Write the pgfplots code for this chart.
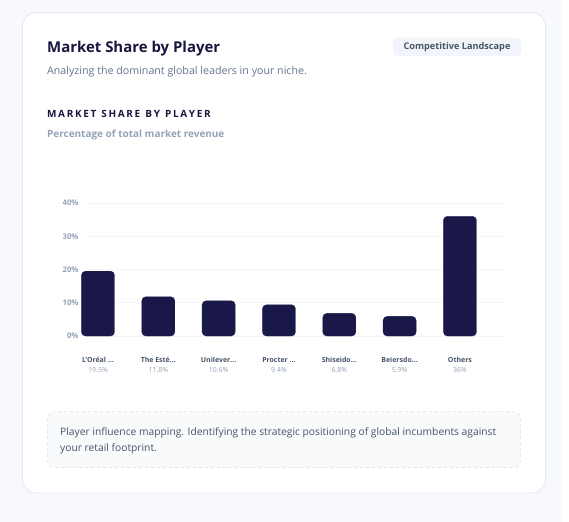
\documentclass[border=0pt]{standalone}
\usepackage{pgfplots}
\pgfplotsset{compat=1.18}
\usepackage{fontspec}
\setmainfont{Open Sans}
\definecolor{pagebg}{HTML}{F8F9FC}
\definecolor{cardborder}{HTML}{E2E8F0}
\definecolor{navy}{HTML}{1A1848}
\definecolor{titlec}{HTML}{16163F}
\definecolor{subc}{HTML}{64748B}
\definecolor{lightc}{HTML}{94A3B8}
\definecolor{midc}{HTML}{475569}
\definecolor{badgebg}{HTML}{F1F5F9}
\definecolor{notebg}{HTML}{F8FAFC}
\definecolor{gridc}{HTML}{F1F5F9}
\begin{document}
\begin{tikzpicture}
\begin{scope}[x=1bp,y=-1bp]
\fill[white] (0,0) rectangle (569,522);
\fill[pagebg] (0,0) rectangle (562,522);
\draw[cardborder,fill=white,rounded corners=14bp,line width=0.8bp] (22.5,12.5) rectangle (545.5,493);
\node[anchor=base west,inner sep=0,text=titlec] at (47,53) {\fontsize{15}{18}\selectfont\bfseries Market Share by Player};
\fill[badgebg,rounded corners=4bp] (393,38) rectangle (521,56);
\node[inner sep=0,text=midc] at (457,47) {\fontsize{9.2}{10}\selectfont\bfseries Competitive Landscape};
\node[anchor=base west,inner sep=0,text=subc] at (47,75) {\fontsize{10.7}{12}\selectfont Analyzing the dominant global leaders in your niche.};
\node[anchor=base west,inner sep=0,text=titlec] at (47,118) {\fontsize{10}{12}\selectfont\bfseries M\,A\,R\,K\,E\,T\ \ S\,H\,A\,R\,E\ \ B\,Y\ \ P\,L\,A\,Y\,E\,R};
\node[anchor=base west,inner sep=0,text=lightc] at (47,138) {\fontsize{10}{12}\selectfont\bfseries Percentage of total market revenue};
\draw[cardborder,dashed,fill=notebg,rounded corners=7bp,line width=0.7bp] (47.5,411.5) rectangle (520.5,467.5);
\node[anchor=base west,inner sep=0,text=midc] at (60,435) {\fontsize{10.3}{12}\selectfont Player influence mapping. Identifying the strategic positioning of global incumbents against};
\node[anchor=base west,inner sep=0,text=midc] at (60,451) {\fontsize{10.3}{12}\selectfont your retail footprint.};
\end{scope}
\begin{axis}[
  at={(85bp,-336bp)}, anchor=south west,
  scale only axis, width=422bp, height=133bp,
  xmin=-0.215, xmax=6.78, ymin=0, ymax=40,
  clip=false,
  axis line style={draw=none},
  tick style={draw=none},
  ytick={0,10,20,30,40},
  yticklabel={\pgfmathprintnumber{\tick}\%},
  /pgf/number format/assume math mode=true,
  yticklabel style={font=\fontsize{7.8}{9}\selectfont\bfseries, text=lightc, xshift=-3bp},
  ymajorgrids, grid style={draw=gridc, line width=0.6bp},
  xtick={0,1,2,3,4,5,6},
  xticklabels={
    {\textcolor{midc}{\bfseries L’Oréal ...}\\[1bp]\textcolor{lightc}{19.5\%}},
    {\textcolor{midc}{\bfseries The Esté...}\\[1bp]\textcolor{lightc}{11.8\%}},
    {\textcolor{midc}{\bfseries Unilever...}\\[1bp]\textcolor{lightc}{10.6\%}},
    {\textcolor{midc}{\bfseries Procter ...}\\[1bp]\textcolor{lightc}{9.4\%}},
    {\textcolor{midc}{\bfseries Shiseido...}\\[1bp]\textcolor{lightc}{6.8\%}},
    {\textcolor{midc}{\bfseries Beiersdo...}\\[1bp]\textcolor{lightc}{5.9\%}},
    {\textcolor{midc}{\bfseries Others}\\[1bp]\textcolor{lightc}{36\%}}},
  xticklabel style={font=\fontsize{7}{9}\selectfont, align=center, anchor=north, yshift=-13.5bp},
  ybar, bar width=33bp,
]
\addplot[fill=navy, draw=navy, rounded corners=4bp, line width=0.3bp] coordinates {
  (0,19.5) (1,11.8) (2,10.6) (3,9.4) (4,6.8) (5,5.9) (6,36)};
\end{axis}
\end{tikzpicture}
\end{document}
